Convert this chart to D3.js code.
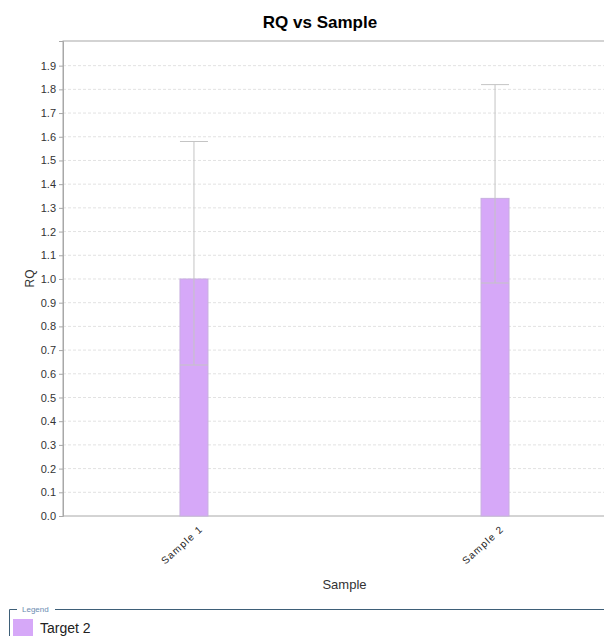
<!DOCTYPE html>
<html>
<head>
<meta charset="utf-8">
<script src="https://cdn.jsdelivr.net/npm/d3@7"></script>
<style>
  body { margin: 0; background: #fff; overflow: hidden; }
  svg { display: block; font-family: "Liberation Sans", Arial, sans-serif; }
</style>
</head>
<body>
<script>
const samples = ["Sample 1", "Sample 2"];
const rq = [1.0, 1.34];
const rqMin = [0.637, 0.983];
const rqMax = [1.58, 1.82];
const yTicks = d3.range(0, 20).map(d => d / 10);
const seriesName = "Target 2";

const width = 604, height = 636;
const plotLeft = 63, plotRight = 626, plotTop = 41, plotBottom = 516;

const svg = d3.select("body").append("svg")
    .attr("width", width)
    .attr("height", height);

svg.append("text")
    .attr("x", 320).attr("y", 28)
    .attr("text-anchor", "middle")
    .attr("font-size", 17).attr("font-weight", "bold")
    .text("RQ vs Sample");

const x = d3.scalePoint().domain(samples).range([plotLeft, plotRight]).padding(0.435);
const y = d3.scaleLinear().domain([0, 2.004]).range([plotBottom, plotTop]);

// grid
svg.append("g")
    .selectAll("line")
    .data(yTicks.slice(1))
    .join("line")
    .attr("x1", plotLeft).attr("x2", plotRight)
    .attr("y1", d => y(d)).attr("y2", d => y(d))
    .attr("stroke", "#e2e2e2")
    .attr("stroke-dasharray", "3,2");

// plot outline
svg.append("rect")
    .attr("x", plotLeft).attr("y", plotTop)
    .attr("width", plotRight - plotLeft).attr("height", plotBottom - plotTop)
    .attr("fill", "none").attr("stroke", "#a8a8a8");

const barW = 28;
const data = samples.map((s, i) => ({s, v: rq[i], lo: rqMin[i], hi: rqMax[i]}));

svg.append("g")
    .selectAll("rect")
    .data(data)
    .join("rect")
    .attr("x", d => x(d.s) - barW / 2)
    .attr("y", d => y(d.v))
    .attr("width", barW)
    .attr("height", d => y(0) - y(d.v))
    .attr("fill", "#d6a8f8")
    .attr("stroke", "#c8b0e0")
    .attr("stroke-width", 1);

const err = svg.append("g").attr("stroke", "#c4c4c4").attr("stroke-width", 1);
err.selectAll(".v").data(data).join("line")
    .attr("x1", d => x(d.s)).attr("x2", d => x(d.s))
    .attr("y1", d => y(d.lo)).attr("y2", d => y(d.hi));
err.selectAll(".hi").data(data).join("line")
    .attr("x1", d => x(d.s) - barW / 2).attr("x2", d => x(d.s) + barW / 2)
    .attr("y1", d => y(d.hi)).attr("y2", d => y(d.hi));
err.selectAll(".lo").data(data).join("line")
    .attr("x1", d => x(d.s) - barW / 2).attr("x2", d => x(d.s) + barW / 2)
    .attr("y1", d => y(d.lo)).attr("y2", d => y(d.lo));

// y axis
const yAxis = svg.append("g")
    .attr("transform", `translate(${plotLeft},0)`)
    .call(d3.axisLeft(y).tickValues(yTicks).tickFormat(d3.format(".1f")).tickSize(4).tickPadding(3));
yAxis.select(".domain").attr("stroke", "#a8a8a8");
yAxis.selectAll(".tick line").attr("stroke", "#a8a8a8");
yAxis.selectAll("text").attr("font-size", 11).attr("fill", "#333")
    .attr("font-family", "Liberation Sans, Arial, sans-serif");

// x axis
const xAxis = svg.append("g")
    .attr("transform", `translate(0,${plotBottom})`)
    .call(d3.axisBottom(x).tickSize(0).tickSizeOuter(0));
xAxis.select(".domain").remove();
xAxis.selectAll("text")
    .attr("font-size", 10).attr("fill", "#222")
    .attr("letter-spacing", 1.2)
    .attr("font-family", "Liberation Sans, Arial, sans-serif")
    .attr("text-anchor", "end")
    .attr("dy", null).attr("y", 0)
    .attr("transform", "translate(9,14) rotate(-42)");

svg.append("text")
    .attr("transform", `translate(34,${(plotTop + plotBottom) / 2}) rotate(-90)`)
    .attr("text-anchor", "middle")
    .attr("font-size", 12).attr("fill", "#333")
    .text("RQ");

svg.append("text")
    .attr("x", (plotLeft + plotRight) / 2).attr("y", 589)
    .attr("text-anchor", "middle")
    .attr("font-size", 13).attr("fill", "#333")
    .text("Sample");

// legend
const lg = svg.append("g");
lg.append("path")
    .attr("stroke", "#3e5f78").attr("fill", "none").attr("stroke-width", 1)
    .attr("d", `M9.5,${height} V609.5 H17 M55,609.5 H${width}`);
lg.append("text")
    .attr("x", 22).attr("y", 612)
    .attr("font-size", 8).attr("fill", "#6a8bb0")
    .text("Legend");
lg.append("rect")
    .attr("x", 13).attr("y", 619).attr("width", 20).attr("height", 19)
    .attr("fill", "#d6a8f8");
lg.append("text")
    .attr("x", 40).attr("y", 633)
    .attr("font-size", 14).attr("fill", "#222")
    .text(seriesName);
</script>
</body>
</html>
